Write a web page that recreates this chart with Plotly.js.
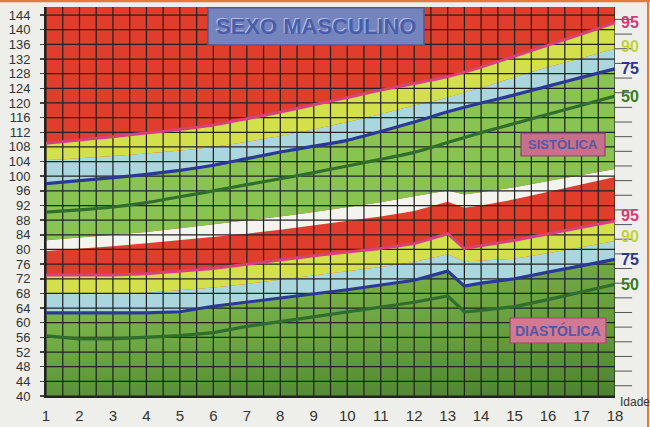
<!DOCTYPE html>
<html>
<head>
<meta charset="utf-8">
<script src="https://cdn.plot.ly/plotly-3.0.1.min.js"></script>
<style>html,body{margin:0;padding:0;background:#eeefea;}#chart{width:650px;height:427px;}</style>
</head>
<body>
<div id="chart"></div>
<script>
// ---- data ----
const ages = [1,2,3,4,5,6,7,8,9,10,11,12,13,14,15,16,17,18];
const agesDia = [1,2,3,4,5,6,7,8,9,10,11,12,13,13.5,14,15,16,17,18];
const ageTicks = [1,2,3,4,5,6,7,8,9,10,11,12,13,14,15,16,17,18];

// Systolic percentiles (mmHg)
const sys95 = [109.0,109.9,110.8,111.8,112.8,114.0,115.7,117.5,119.5,121.5,123.5,125.3,127.2,129.8,132.8,135.8,138.8,141.9];
const sys90 = [104.4,104.9,105.5,106.2,107.0,108.0,109.4,111.0,112.8,114.8,117.0,119.3,121.5,124.2,127.0,129.8,132.3,134.8];
const sys75 = [98.0,98.8,99.6,100.5,101.6,103.0,104.8,106.6,108.2,109.8,112.2,114.8,117.6,120.0,122.2,124.6,127.0,129.3];
const sys50 = [90.2,90.8,91.6,92.8,94.4,96.0,97.7,99.3,101.0,102.8,104.6,106.5,109.2,111.9,114.4,116.9,119.4,121.9];
// lower edge of the systolic green band
const sysLow = [82.5,83.2,84.0,84.8,85.8,86.8,87.9,89.0,90.2,91.5,92.9,94.5,96.1,95.0,95.6,97.0,98.7,100.4,102.0];

// Diastolic percentiles (mmHg)
const diaHigh = [79.6,80.2,80.9,81.7,82.5,83.3,84.3,85.4,86.6,87.8,89.0,90.5,93.0,91.4,92.0,93.7,95.7,97.8,99.8];
const dia95 = [73.0,72.9,73.0,73.4,74.0,74.8,76.0,77.2,78.3,79.3,80.3,81.6,84.3,80.3,81.0,82.5,84.3,86.0,87.8];
const dia90 = [67.9,67.8,67.9,68.2,68.8,69.6,70.6,71.7,72.8,74.0,75.2,76.6,78.7,76.7,77.0,77.5,79.0,80.6,82.3];
const dia75 = [62.7,62.6,62.7,62.7,63.0,64.5,65.6,66.8,68.0,69.0,70.3,71.6,74.1,70.0,70.8,72.0,73.8,75.6,77.3];
const dia50 = [56.4,55.6,55.6,56.0,56.5,57.3,59.0,60.3,61.6,62.9,64.3,65.6,67.3,63.0,63.4,64.4,66.3,68.5,70.5];

const pctLabels = ['95','90','75','50'];

// ---- styles ----
const C = {
  red:'#e03d2c', yellow:'#d3e04c', blue:'#a9d7dd', green:'#89c352', white:'#f3f4ee',
  pink:'#d8407c', navy:'#2c3896', dgreen:'#2f6e2c', grid:'#222222',
  lab95:'#d43a7a', lab90:'#c3d43a', lab75:'#2b3590', lab50:'#3a7a2a'
};
const Y_MIN = 40, Y_MAX = 146.2;
const sans = 'Liberation Sans, Arial, sans-serif';

function band(x, y, color, fill, smooth){
  return {x:x, y:y, type:'scatter', mode:'lines',
          line:{width:0, color:color, shape: smooth ? 'spline' : 'linear', smoothing:0.6},
          fill: fill || 'tonexty', fillcolor:color, hoverinfo:'skip', showlegend:false};
}
function curve(x, y, color, w, smooth){
  return {x:x, y:y, type:'scatter', mode:'lines',
          line:{width:w||3, color:color, shape: smooth ? 'spline' : 'linear', smoothing:0.6},
          hoverinfo:'skip', showlegend:false};
}

const traces = [];
traces.push({x:agesDia, y:dia75, type:'scatter', mode:'lines', line:{width:0},
  fill:'tozeroy', fillgradient:{type:'vertical', start:40, stop:78,
  colorscale:[[0,'#5a9339'],[0.45,'#75b147'],[1,'#89c352']]},
  hoverinfo:'skip', showlegend:false});
traces.push({x:agesDia, y:dia75, type:'scatter', mode:'lines', line:{width:0},
  fill:'tozeroy', fillgradient:{type:'horizontal', start:1, stop:18,
  colorscale:[[0,'rgba(20,60,10,0)'],[1,'rgba(20,60,10,0.2)']]},
  hoverinfo:'skip', showlegend:false});
traces.push(band(agesDia, dia75, C.green, 'none'));
traces.push(band(agesDia, dia90, C.blue));
traces.push(band(agesDia, dia95, C.yellow));
traces.push(band(agesDia, diaHigh, C.red));
traces.push(band(agesDia, sysLow, C.white));
traces.push(band(ages, sys75, C.green, null, true));
traces.push(band(ages, sys90, C.blue, null, true));
traces.push(band(ages, sys95, C.yellow, null, true));

// grid on top of the coloured bands
const gx = [], gy = [];
for (let v = 40; v <= 144; v += 4) { gx.push(1, 18, null); gy.push(v, v, null); }
for (let a = 1; a <= 18.001; a += 0.5) { gx.push(a, a, null); gy.push(Y_MIN, Y_MAX, null); }
traces.push({x:gx, y:gy, type:'scatter', mode:'lines', line:{width:1.25, color:C.grid},
  connectgaps:false, hoverinfo:'skip', showlegend:false});

// percentile curves
traces.push(curve(agesDia, dia50, C.dgreen, 3.2));
traces.push(curve(agesDia, dia75, C.navy, 3.2));
traces.push(curve(agesDia, dia95, C.pink, 3));
traces.push(curve(ages, sys50, C.dgreen, 3.2, true));
traces.push(curve(ages, sys75, C.navy, 3.2, true));
traces.push(curve(ages, sys95, C.pink, 3, true));

// right-hand percentile labels
const labColors = [C.lab95, C.lab90, C.lab75, C.lab50];
const sysEnds = [sys95, sys90, sys75, sys50];
const diaEnds = [dia95, dia90, dia75, dia50];
const annotations = [];
const lblShift = [0, 2, 0, 0];
const lblShiftDia = [5, 5, 0, 0];
pctLabels.forEach((t, i) => {
  annotations.push({x:18, y:sysEnds[i][sysEnds[i].length-1], xref:'x', yref:'y', text:'<b>'+t+'</b>',
    showarrow:false, xanchor:'left', yanchor:'middle', xshift:4, yshift:lblShift[i],
    font:{family:sans, size:16, color:labColors[i]}});
  annotations.push({x:18, y:diaEnds[i][diaEnds[i].length-1], xref:'x', yref:'y', text:'<b>'+t+'</b>',
    showarrow:false, xanchor:'left', yanchor:'middle', xshift:4, yshift:lblShiftDia[i],
    font:{family:sans, size:16, color:labColors[i]}});
});

// title box text (embossed look)
annotations.push({xref:'paper', yref:'paper', x:0.4745, y:0.951, xanchor:'center', yanchor:'middle',
  text:'<b>SEXO MASCULINO</b>', showarrow:false, xshift:-1, yshift:1,
  font:{family:sans, size:22, color:'#b4bfe8'}});
annotations.push({xref:'paper', yref:'paper', x:0.4745, y:0.951, xanchor:'center', yanchor:'middle',
  text:'<b>SEXO MASCULINO</b>', showarrow:false,
  font:{family:sans, size:22, color:'#4a5ea8'}});
annotations.push({xref:'paper', yref:'paper', x:0.9086, y:0.6465, xanchor:'center', yanchor:'middle',
  text:'<b>SISTÓLICA</b>', showarrow:false, font:{family:sans, size:13, color:'#5b55a5'}});
annotations.push({xref:'paper', yref:'paper', x:0.8998, y:0.1684, xanchor:'center', yanchor:'middle',
  text:'<b>DIASTÓLICA</b>', showarrow:false, font:{family:sans, size:14, color:'#5458a8'}});
annotations.push({xref:'paper', yref:'paper', x:1.0055, y:-0.016, xanchor:'left', yanchor:'middle',
  text:'Idade', showarrow:false, font:{family:sans, size:12, color:'#333'}});

const shapes = [
  {type:'rect', xref:'paper', yref:'paper', x0:0.2847, x1:0.6643, y0:0.9023, y1:0.998,
   fillcolor:'#7584bd', line:{color:'#4d5a94', width:1.5}, layer:'above'},
  {type:'rect', xref:'paper', yref:'paper', x0:0.8348, x1:0.9824, y0:0.617, y1:0.676,
   fillcolor:'#c6708b', line:{color:'#8e4561', width:1.2}, layer:'above'},
  {type:'rect', xref:'paper', yref:'paper', x0:0.8155, x1:0.9842, y0:0.1362, y1:0.2005,
   fillcolor:'#d27a91', line:{color:'#9a4a66', width:1.2}, layer:'above'},
  {type:'line', xref:'paper', yref:'paper', x0:-0.09, x1:1.07, y0:1.016, y1:1.016, line:{color:'#e8773a', width:3}},
  {type:'line', xref:'paper', yref:'paper', x0:1.058, x1:1.058, y0:-0.08, y1:1.02, line:{color:'#e8773a', width:2}}
];
for (let v = 40; v <= 144; v += 4) {
  shapes.push({type:'line', xref:'paper', yref:'y', x0:1.0, x1:1.03, y0:v-1.2, y1:v-1.2,
    line:{color:'#555', width:1}});
}

const layout = {
  width:650, height:427,
  margin:{l:46, r:35, t:7, b:31, pad:0},
  paper_bgcolor:'#eeefea', plot_bgcolor:C.red,
  showlegend:false,
  xaxis:{range:[1,18], tickvals:ageTicks, ticktext:ageTicks.map(String), ticks:'outside', ticklen:5,
    tickcolor:'rgba(0,0,0,0)', tickfont:{family:sans, size:15, color:'#333'},
    showgrid:false, zeroline:false, showline:true, linecolor:'#222', linewidth:2, fixedrange:true},
  yaxis:{range:[Y_MIN, Y_MAX], tick0:40, dtick:4, ticks:'outside', ticklen:4, tickwidth:1.5, tickcolor:'#444',
    ticklabelstandoff:7, tickfont:{family:sans, size:13, color:'#333'},
    showgrid:false, zeroline:false, showline:true, linecolor:'#222', linewidth:2, fixedrange:true},
  annotations:annotations,
  shapes:shapes
};

Plotly.newPlot('chart', traces, layout, {staticPlot:true, displayModeBar:false});
</script>
</body>
</html>
